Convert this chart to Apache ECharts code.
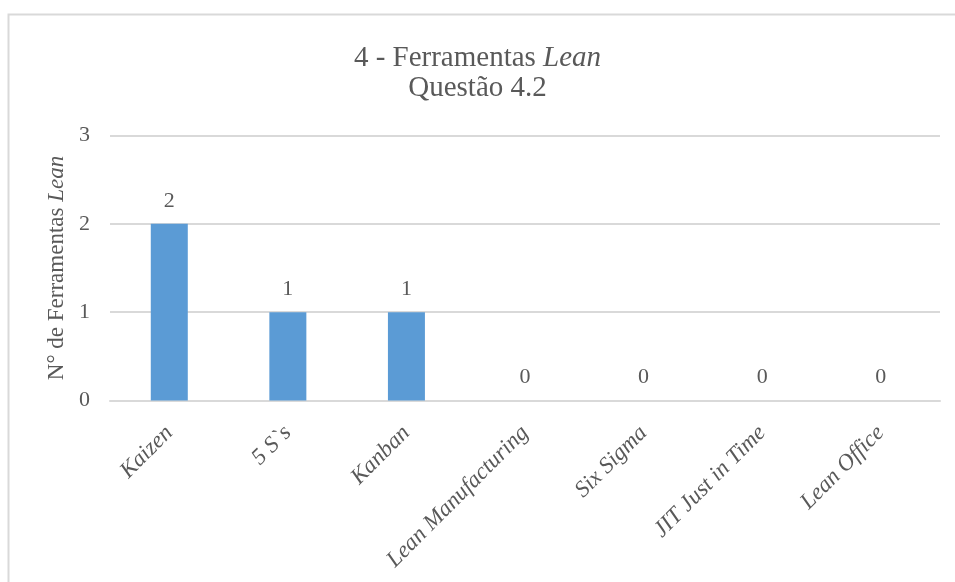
<!DOCTYPE html>
<html>
<head>
<meta charset="utf-8">
<script src="https://cdn.jsdelivr.net/npm/echarts@6/dist/echarts.min.js"></script>
<style>
html,body{margin:0;padding:0;background:#fff;}
#chart{width:955px;height:582px;}
</style>
</head>
<body>
<div id="chart"></div>
<script>
var categories = ['Kaizen', '5 S`s', 'Kanban', 'Lean Manufacturing', 'Six Sigma', 'JIT Just in Time', 'Lean Office'];
var values = [2, 1, 1, 0, 0, 0, 0];
var yTicks = {min: 0, max: 3, interval: 1};

var FONT = "'Liberation Serif', 'Times New Roman', serif";
var TXT = '#595959';

var chart = echarts.init(document.getElementById('chart'));
chart.setOption({
  animation: false,
  backgroundColor: '#fff',
  graphic: [{
    type: 'rect',
    shape: {x: 8.5, y: 14.5, width: 1000, height: 1000},
    style: {fill: 'none', stroke: '#d9d9d9', lineWidth: 2},
    silent: true
  }],
  title: {
    text: '4 - Ferramentas {i|Lean}\nQuestão 4.2',
    left: 'center',
    top: 43,
    padding: 0,
    textStyle: {
      fontFamily: FONT, fontSize: 29, fontWeight: 'normal', color: TXT, lineHeight: 30,
      rich: {
        i: {fontFamily: FONT, fontSize: 29, fontStyle: 'italic', color: TXT, lineHeight: 30}
      }
    }
  },
  grid: {left: 110, right: 15, top: 135.5, bottom: 181.5, containLabel: false},
  xAxis: {
    type: 'category',
    data: categories,
    axisLine: {show: true, lineStyle: {color: '#d9d9d9', width: 2}},
    axisTick: {show: false},
    axisLabel: {
      rotate: 45, interval: 0, margin: 29,
      fontFamily: FONT, fontSize: 23, fontStyle: 'italic', color: TXT
    }
  },
  yAxis: {
    type: 'value',
    min: yTicks.min, max: yTicks.max, interval: yTicks.interval,
    name: 'N° de Ferramentas {i|Lean}',
    nameLocation: 'middle',
    nameGap: 42,
    nameTextStyle: {
      fontFamily: FONT, fontSize: 23, color: TXT,
      rich: {i: {fontFamily: FONT, fontSize: 23, fontStyle: 'italic', color: TXT}}
    },
    axisLine: {show: false},
    axisTick: {show: false},
    splitLine: {lineStyle: {color: '#d9d9d9', width: 2}},
    axisLabel: {margin: 20, fontFamily: FONT, fontSize: 22, color: TXT}
  },
  series: [{
    type: 'bar',
    data: values,
    barWidth: 37,
    itemStyle: {color: '#5b9bd5'},
    label: {
      show: true, position: 'top', distance: 12,
      fontFamily: FONT, fontSize: 22, color: TXT
    }
  }]
});
</script>
</body>
</html>
